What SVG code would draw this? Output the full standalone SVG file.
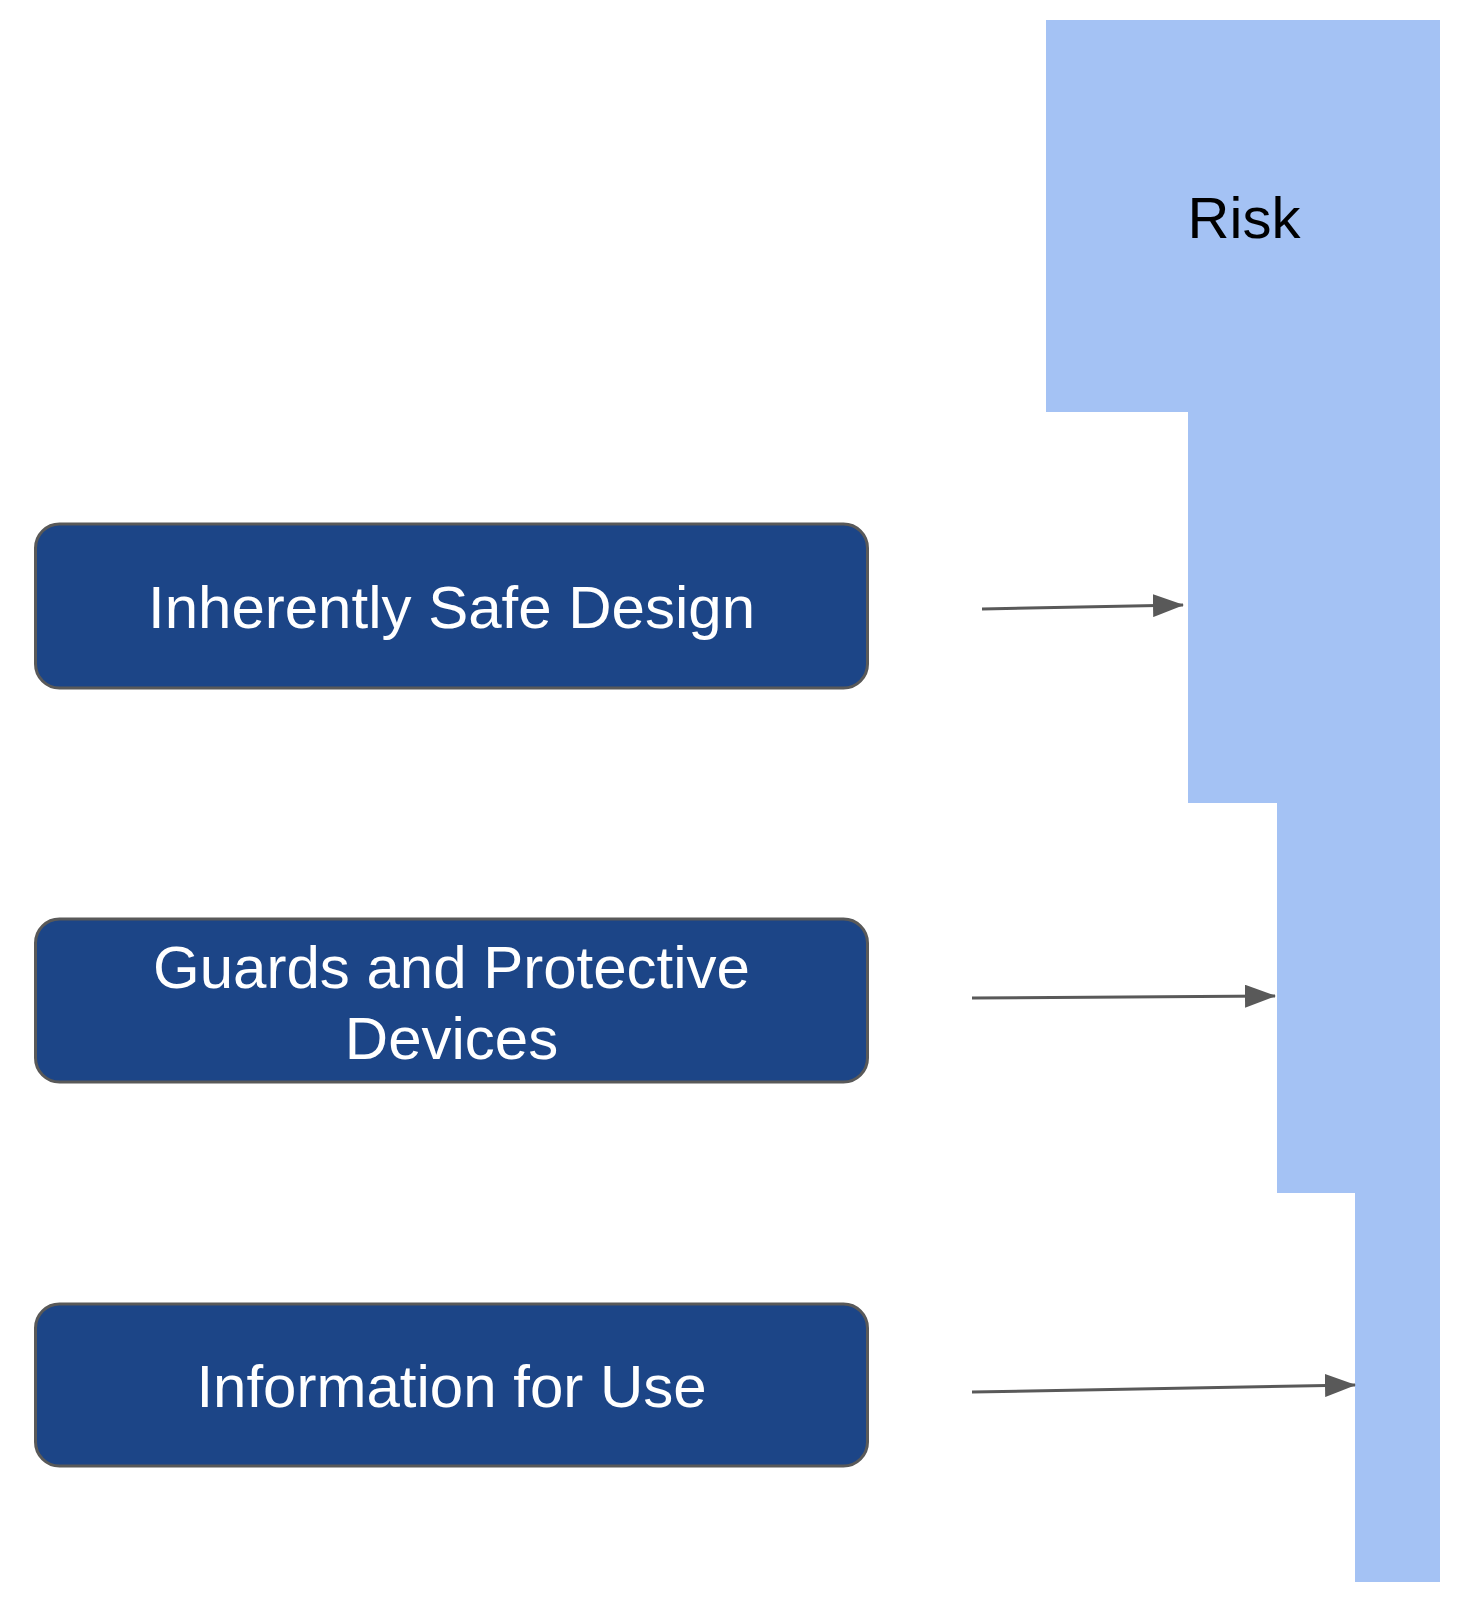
<svg xmlns="http://www.w3.org/2000/svg" width="1477" height="1600" viewBox="0 0 1477 1600">
  <style>
    .box { fill: #1c4587; stroke: #595959; stroke-width: 3; }
    .label { fill: #ffffff; font-family: "Liberation Sans", Arial, sans-serif; font-size: 60px; text-anchor: middle; }
    .risk { fill: #000000; font-family: "Liberation Sans", Arial, sans-serif; font-size: 58px; text-anchor: middle; }
    .conn { stroke: #595959; stroke-width: 3; fill: none; marker-end: url(#arrow); }
  </style>
  <defs>
    <marker id="arrow" markerUnits="userSpaceOnUse" markerWidth="31" markerHeight="23" refX="30" refY="11.5" orient="auto" viewBox="0 0 31 23">
      <path d="M0,0 L31,11.5 L0,23 z" fill="#595959"/>
    </marker>
  </defs>
  <rect x="0" y="0" width="1477" height="1600" fill="#ffffff"/>
  <g id="risk">
    <polygon points="1046,20 1440,20 1440,1582 1355,1582 1355,1193 1277,1193 1277,803 1188,803 1188,412 1046,412" fill="#a4c2f4"/>
    <text class="risk" x="1244" y="238">Risk</text>
  </g>
  <g id="inherently-safe-design">
    <rect class="box" x="35.5" y="524" width="832" height="164" rx="24" ry="24"/>
    <text class="label" x="451.5" y="628">Inherently Safe Design</text>
  </g>
  <g id="guards-protective-devices">
    <rect class="box" x="35.5" y="919" width="832" height="163" rx="24" ry="24"/>
    <text class="label" x="451.5" y="988">Guards and Protective</text>
    <text class="label" x="451.5" y="1059">Devices</text>
  </g>
  <g id="information-for-use">
    <rect class="box" x="35.5" y="1304" width="832" height="162" rx="24" ry="24"/>
    <text class="label" x="451.5" y="1407">Information for Use</text>
  </g>
  <g id="connectors">
    <line class="conn" x1="982" y1="609" x2="1183" y2="605"/>
    <line class="conn" x1="972" y1="998" x2="1275" y2="996"/>
    <line class="conn" x1="972" y1="1392" x2="1355" y2="1385"/>
  </g>
</svg>
